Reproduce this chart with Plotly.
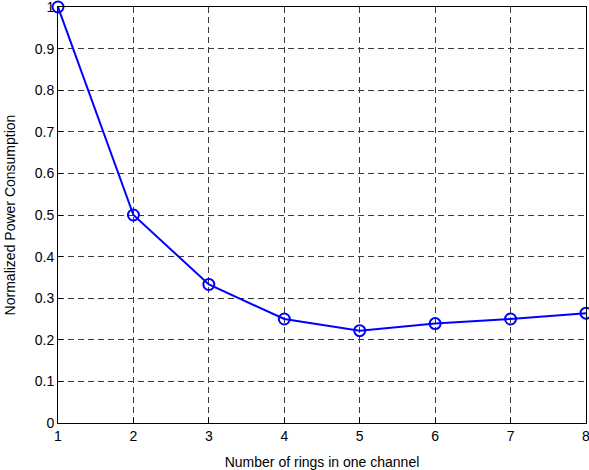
import plotly.graph_objects as go

rings = [1, 2, 3, 4, 5, 6, 7, 8]
power = [1.0, 0.5, 0.333, 0.25, 0.222, 0.239, 0.25, 0.264]
x_ticks = [1, 2, 3, 4, 5, 6, 7, 8]
y_ticks = [0, 0.1, 0.2, 0.3, 0.4, 0.5, 0.6, 0.7, 0.8, 0.9, 1]
y_tick_text = ["0", "0.1", "0.2", "0.3", "0.4", "0.5", "0.6", "0.7", "0.8", "0.9", "1"]

FONT = "Liberation Sans, Arial"

fig = go.Figure()
fig.add_trace(go.Scatter(
    x=rings, y=power, mode="lines+markers",
    line=dict(color="#0000ff", width=2),
    marker=dict(symbol="circle-open", size=11, color="#0000ff", line=dict(width=2)),
    cliponaxis=False,
))

axis_common = dict(
    showline=True, linecolor="black", linewidth=1, mirror=True,
    ticks="inside", ticklen=5, tickcolor="black",
    showgrid=True, gridcolor="#3a3a3a", griddash="6px,4px", gridwidth=1,
    zeroline=False, ticklabeloverflow="allow", automargin=False,
    tickfont=dict(family=FONT, size=14, color="black"),
)

fig.update_layout(
    width=589, height=470,
    margin=dict(l=58, r=3, t=7, b=47),
    paper_bgcolor="white", plot_bgcolor="white",
    showlegend=False,
    xaxis=dict(range=[1, 8], tickvals=x_ticks, ticklabelstandoff=0,
               title=dict(text="Number of rings in one channel",
                          font=dict(family=FONT, size=14, color="black")), **axis_common),
    yaxis=dict(range=[0, 1], tickvals=y_ticks, ticktext=y_tick_text, ticklabelstandoff=0,
               title=dict(text="Normalized Power Consumption",
                          font=dict(family=FONT, size=14, color="black")), **axis_common),
)

fig.write_html("out.html")
